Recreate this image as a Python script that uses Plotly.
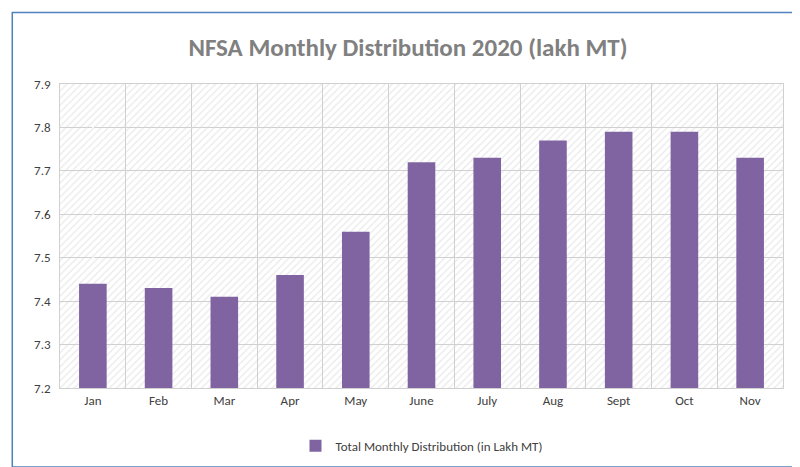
import plotly.graph_objects as go

months = ["Jan", "Feb", "Mar", "Apr", "May", "June", "July", "Aug", "Sept", "Oct", "Nov"]
distribution = [7.44, 7.43, 7.41, 7.46, 7.56, 7.72, 7.73, 7.77, 7.79, 7.79, 7.73]
y_min, y_max = 7.2, 7.9

fig = go.Figure()

# hatched plot-area background (transparent so gridlines show through)
fig.add_trace(go.Bar(
    x=months, y=[y_max - y_min] * len(months), base=y_min, width=1,
    marker=dict(color="rgba(0,0,0,0)", line_width=0,
                pattern=dict(shape="/", fgcolor="#d4d4d4", bgcolor="rgba(0,0,0,0)",
                             size=5, solidity=0.25)),
    showlegend=False, hoverinfo="skip",
))
fig.add_trace(go.Bar(
    x=months, y=[v - y_min for v in distribution], base=y_min, width=0.42,
    marker=dict(color="#8064A2", line_width=0),
    name="Total Monthly Distribution (in Lakh MT)",
))
# invisible trace to drive vertical category gridlines
fig.add_trace(go.Scatter(x=[-0.5, len(months) - 0.5], y=[y_min, y_min], xaxis="x2",
                         mode="markers", marker_opacity=0, showlegend=False, hoverinfo="skip"))

fig.update_layout(
    width=800, height=467,
    margin=dict(l=52, r=25, t=76, b=87),
    barmode="overlay",
    paper_bgcolor="white", plot_bgcolor="white",
    font=dict(family="Calibri, Liberation Sans, sans-serif", size=13, color="#404040"),
    title=dict(text="<b>NFSA Monthly Distribution 2020 (lakh MT)</b>", x=0.5, y=0.915,
               xanchor="center", yanchor="middle",
               font=dict(size=25, color="#808080", family="Calibri, Liberation Sans, sans-serif")),
    xaxis=dict(showgrid=False, ticks="", range=[-0.5, len(months) - 0.5],
               showline=True, mirror=True, linecolor="#d0d0d0",
               tickfont=dict(size=13, color="#404040")),
    xaxis2=dict(overlaying="x", range=[-0.5, len(months) - 0.5], tick0=-0.5, dtick=1,
                showgrid=True, gridcolor="#d0d0d0", showticklabels=False, ticks=""),
    yaxis=dict(range=[y_min, y_max], dtick=0.1, tickformat=".1f", showgrid=True,
               gridcolor="#d0d0d0", zeroline=False, ticks="", ticksuffix="  ",
               showline=True, mirror=True, linecolor="#d0d0d0",
               tickfont=dict(size=13, color="#404040")),
    legend=dict(orientation="h", x=0.5, xanchor="center", y=-0.19, yanchor="middle",
                font=dict(size=13, color="#404040")),
    shapes=[dict(type="rect", xref="paper", yref="paper",
                 x0=-0.066, x1=1.02, y0=-0.26, y1=1.235,
                 line=dict(color="#4F81BD", width=1.5))],
)

fig.write_html("out.html")
